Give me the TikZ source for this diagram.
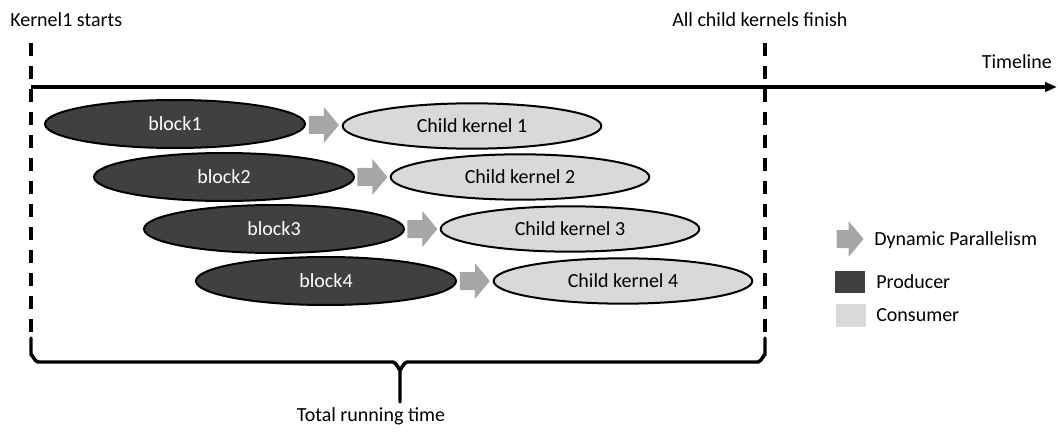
\documentclass[tikz,border=0pt]{standalone}
\usepackage{fontspec}
\setmainfont{Carlito}
\usetikzlibrary{shapes.geometric,arrows.meta,calc}

\definecolor{producer}{HTML}{404040}
\definecolor{consumer}{HTML}{D9D9D9}
\definecolor{dpgray}{HTML}{A6A6A6}

% block arrow of 30 x 36 px, centred on the given coordinate
\newcommand{\launcharrow}[2][15]{%
  \fill[dpgray] (#2) ++(-#1,-9) -- ++(#1,0) -- ++(0,-9) -- ++(15,18)
    -- ++(-15,18) -- ++(0,-9) -- ++(-#1,0) -- cycle;}

\begin{document}
\begin{tikzpicture}[x=0.75pt,y=-0.75pt,
  lbl/.style={font=\fontsize{15}{18}\selectfont, inner sep=0pt},
  blocknode/.style={ellipse, draw=black, line width=1.5pt, fill=producer,
    text=white, minimum width=195pt, minimum height=36pt, inner sep=0pt,
    font=\fontsize{15}{18}\selectfont},
  childnode/.style={ellipse, draw=black, line width=1.5pt, fill=consumer,
    minimum width=194pt, minimum height=34pt, inner sep=0pt,
    font=\fontsize{15}{18}\selectfont},
  marker/.style={line width=2.8pt, dash pattern=on 9.75pt off 7.5pt},
  brace/.style={line width=2.6pt, line cap=round, line join=round},
  swatch/.style={minimum width=22.5pt, minimum height=17pt, inner sep=0pt, draw=none}]

  \useasboundingbox (0,0) rectangle (1058,435);

  % event markers and the time axis
  \coordinate (startTop) at (31,43);
  \coordinate (startBot) at (31,336);
  \coordinate (endTop) at (765,43);
  \coordinate (endBot) at (765,336);
  \coordinate (axisStart) at (31,87);
  \coordinate (axisEnd) at (1057,87);

  \draw[marker] (startTop) -- (startBot);
  \draw[marker] (endTop) -- (endBot);
  \draw[line width=2.4pt, -{Triangle[length=9pt,width=7pt]}] (axisStart) -- (axisEnd);

  \node[lbl, anchor=west] (kstart) at (10,20) {Kernel1 starts};
  \node[lbl, anchor=west] (kfinish) at (672,20) {All child kernels finish};
  \node[lbl, anchor=east] (tl) at (1052,62) {Timeline};

  % producer blocks and the child kernels they launch
  \node[blocknode] (b1) at (175,124) {block1};
  \node[blocknode] (b2) at (224,177) {block2};
  \node[blocknode] (b3) at (274,229) {block3};
  \node[blocknode] (b4) at (326,281) {block4};

  \node[childnode] (c1) at (472,126) {Child kernel 1};
  \node[childnode] (c2) at (520,177) {Child kernel 2};
  \node[childnode] (c3) at (570,229) {Child kernel 3};
  \node[childnode] (c4) at (623,281) {Child kernel 4};

  \foreach \i in {1,...,4}{
    \coordinate (a\i) at ($(b\i.east)!0.5!(c\i.west)$);
    \launcharrow{a\i}
  }

  % brace spanning the total running time
  \draw[brace] (31,338) -- (31,355) to[out=90,in=180] (38,362) -- (393,362)
    to[out=0,in=-90] (400,369) -- (400,402);
  \draw[brace] (400,369) to[out=-90,in=180] (407,362) -- (758,362)
    to[out=0,in=90] (765,355) -- (765,338);
  \node[lbl] (total) at (371,416) {Total running time};

  % legend
  \coordinate (legArrow) at (848.5,239);
  \launcharrow[12]{legArrow}
  \node[lbl, anchor=west] (legArrowTxt) at (874,240) {Dynamic Parallelism};
  \node[swatch, fill=producer] (legProd) at (850,282) {};
  \node[lbl, anchor=west] (legProdTxt) at (876,282) {Producer};
  \node[swatch, fill=consumer] (legCons) at (850.5,315.5) {};
  \node[lbl, anchor=west] (legConsTxt) at (876,315) {Consumer};
\end{tikzpicture}
\end{document}
